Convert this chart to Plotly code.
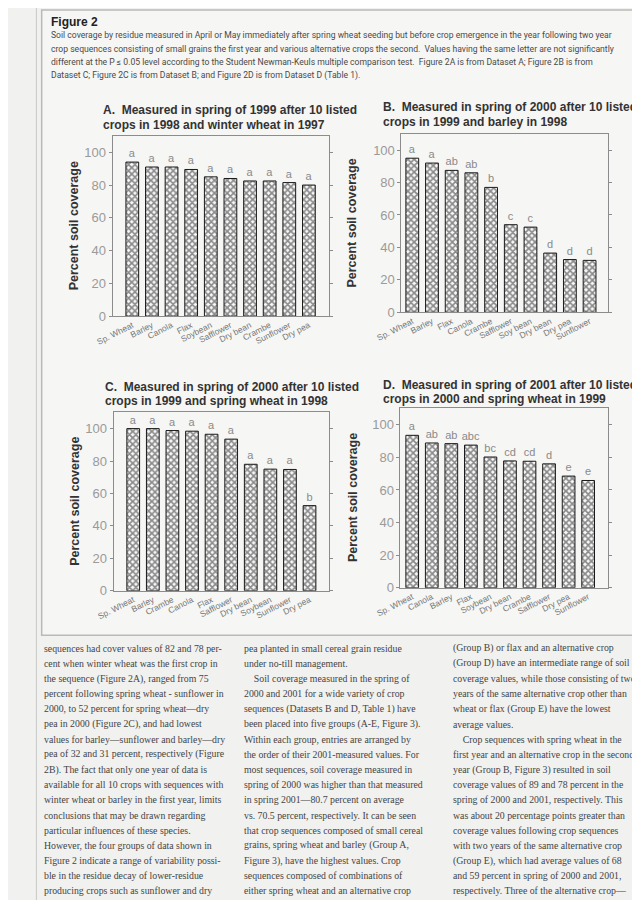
import plotly.graph_objects as go

W, H = 640, 900

# ---------------- data ----------------
crops_a = ["Sp. Wheat", "Barley", "Canola", "Flax", "Soybean", "Safflower", "Dry bean", "Crambe", "Sunflower", "Dry pea"]
vals_a = [94, 91, 91, 89.5, 85, 84, 82.5, 82.5, 81.5, 80]
lets_a = ["a", "a", "a", "a", "a", "a", "a", "a", "a", "a"]

crops_b = ["Sp. Wheat", "Barley", "Flax", "Canola", "Crambe", "Safflower", "Soy bean", "Dry bean", "Dry pea", "Sunflower"]
vals_b = [95, 92, 87.5, 86, 77, 54, 52.5, 36.5, 32.5, 32]
lets_b = ["a", "a", "ab", "ab", "b", "c", "c", "d", "d", "d"]

crops_c = ["Sp. Wheat", "Barley", "Crambe", "Canola", "Flax", "Safflower", "Dry bean", "Soybean", "Sunflower", "Dry pea"]
vals_c = [100, 100, 98.8, 98.4, 96.5, 93.5, 78, 75, 74.8, 52.5]
lets_c = ["a", "a", "a", "a", "a", "a", "a", "a", "a", "b"]

crops_d = ["Sp. Wheat", "Canola", "Barley", "Flax", "Soybean", "Dry bean", "Crambe", "Safflower", "Dry pea", "Sunflower"]
vals_d = [93.5, 88.8, 88.4, 87.5, 80.2, 77.8, 77.6, 76, 68.5, 65.8]
lets_d = ["a", "ab", "ab", "abc", "bc", "cd", "cd", "d", "e", "e"]

titles = [
    ["A.  Measured in spring of 1999 after 10 listed", "crops in 1998 and winter wheat in 1997"],
    ["B.  Measured in spring of 2000 after 10 listed", "crops in 1999 and barley in 1998"],
    ["C.  Measured in spring of 2000 after 10 listed", "crops in 1999 and spring wheat in 1998"],
    ["D.  Measured in spring of 2001 after 10 listed", "crops in 2000 and spring wheat in 1999"],
]
y_title = "Percent soil coverage"
y_ticks = [0, 20, 40, 60, 80, 100]

fig_label = "Figure 2"
caption_lines = [
    "Soil coverage by residue measured in April or May immediately after spring wheat seeding but before crop emergence in the year following two year",
    "crop sequences consisting of small grains the first year and various alternative crops the second.  Values having the same letter are not significantly",
    "different at the P \u2264 0.05 level according to the Student Newman-Keuls multiple comparison test.  Figure 2A is from Dataset A; Figure 2B is from",
    "Dataset C; Figure 2C is from Dataset B; and Figure 2D is from Dataset D (Table 1).",
]

col1 = [
    "sequences had cover values of 82 and 78 per-",
    "cent when winter wheat was the first crop in",
    "the sequence (Figure 2A), ranged from 75",
    "percent following spring wheat - sunflower in",
    "2000, to 52 percent for spring wheat\u2014dry",
    "pea in 2000 (Figure 2C), and had lowest",
    "values for barley\u2014sunflower and barley\u2014dry",
    "pea of 32 and 31 percent, respectively (Figure",
    "2B). The fact that only one year of data is",
    "available for all 10 crops with sequences with",
    "winter wheat or barley in the first year, limits",
    "conclusions that may be drawn regarding",
    "particular influences of these species.",
    "However, the four groups of data shown in",
    "Figure 2 indicate a range of variability possi-",
    "ble in the residue decay of lower-residue",
    "producing crops such as sunflower and dry",
]
col2 = [
    "pea planted in small cereal grain residue",
    "under no-till management.",
    "\u2003Soil coverage measured in the spring of",
    "2000 and 2001 for a wide variety of crop",
    "sequences (Datasets B and D, Table 1) have",
    "been placed into five groups (A-E, Figure 3).",
    "Within each group, entries are arranged by",
    "the order of their 2001-measured values. For",
    "most sequences, soil coverage measured in",
    "spring of 2000 was higher than that measured",
    "in spring 2001\u201480.7 percent on average",
    "vs. 70.5 percent, respectively. It can be seen",
    "that crop sequences composed of small cereal",
    "grains, spring wheat and barley (Group A,",
    "Figure 3), have the highest values. Crop",
    "sequences composed of combinations of",
    "either spring wheat and an alternative crop",
]
col3 = [
    "(Group B) or flax and an alternative crop",
    "(Group D) have an intermediate range of soil",
    "coverage values, while those consisting of two",
    "years of the same alternative crop other than",
    "wheat or flax (Group E) have the lowest",
    "average values.",
    "\u2003Crop sequences with spring wheat in the",
    "first year and an alternative crop in the second",
    "year (Group B, Figure 3) resulted in soil",
    "coverage values of 89 and 78 percent in the",
    "spring of 2000 and 2001, respectively. This",
    "was about 20 percentage points greater than",
    "coverage values following crop sequences",
    "with two years of the same alternative crop",
    "(Group E), which had average values of 68",
    "and 59 percent in spring of 2000 and 2001,",
    "respectively. Three of the alternative crop\u2014",
]

# ---------------- layout helpers ----------------
def px(x):
    return x / W

def py(y):
    return 1 - y / H

panels = [
    dict(box=(82, 307, 129, 311), xr=[-1.0, 10.0], title_xy=(70, 103), ytl_xy=(42, 220)),
    dict(box=(383, 598, 127, 307), xr=[-0.55, 9.92], title_xy=(362, 100), ytl_xy=(332, 217)),
    dict(box=(83, 307, 408, 588), xr=[-1.0, 9.97], title_xy=(72, 382), ytl_xy=(42, 498)),
    dict(box=(382, 598, 404, 585), xr=[-0.6, 10.0], title_xy=(362, 380), ytl_xy=(332, 494)),
]
data = [(crops_a, vals_a, lets_a), (crops_b, vals_b, lets_b), (crops_c, vals_c, lets_c), (crops_d, vals_d, lets_d)]

SANS = "Liberation Sans, Arial, sans-serif"
fig = go.Figure()
annotations = []
shapes = []

BG = "#f1f1ef"
BOX = "#f6f6f4"

shapes.append(dict(type="rect", xref="paper", yref="paper", x0=px(8), x1=px(636), y0=py(633), y1=py(2),
                   line=dict(color="#b9b9b7", width=1.5), fillcolor=BOX, layer="below"))
shapes.append(dict(type="line", xref="paper", yref="paper", x0=px(2.5), x1=px(2.5), y0=0, y1=1,
                   line=dict(color="#c8c8c6", width=1), layer="below"))

for i, (p, (cats, vals, lets)) in enumerate(zip(panels, data)):
    n = "" if i == 0 else str(i + 1)
    l, r, t, b = p["box"]
    fig.add_trace(go.Bar(
        x=cats, y=vals, text=lets, textposition="outside", constraintext="none",
        textfont=dict(family=SANS, size=11, color="#8a8a8a"),
        cliponaxis=False, width=0.65,
        marker=dict(color="#f8f8f8", line=dict(color="#1a1a1a", width=1),
                    pattern=dict(shape="x", fgcolor="#1c1c1c", bgcolor="#f8f8f8", size=4.5, solidity=0.62)),
        xaxis="x" + n, yaxis="y" + n, showlegend=False, hoverinfo="skip",
    ))
    fig.layout["xaxis" + n] = dict(
        domain=[px(l), px(r)], anchor="y" + n, type="category", range=p["xr"],
        showline=True, mirror=True, linecolor="#8c8c8c", linewidth=1, ticks="",
        tickangle=-27, tickfont=dict(family=SANS, size=8.5, color="#777"),
        showgrid=False, zeroline=False, fixedrange=True,
    )
    fig.layout["yaxis" + n] = dict(
        domain=[py(b), py(t)], anchor="x" + n, range=[0, 110], tickvals=y_ticks,
        showline=True, mirror="ticks", linecolor="#8c8c8c", linewidth=1,
        ticks="outside", ticklen=3, tickcolor="#8c8c8c",
        tickfont=dict(family=SANS, size=13, color="#9a9a9a"),
        showgrid=False, zeroline=False, fixedrange=True,
    )
    tx, ty = p["title_xy"]
    for k, line in enumerate(titles[i]):
        annotations.append(dict(xref="paper", yref="paper", x=px(tx), y=py(ty + 15 * k), text="<b>" + line + "</b>",
                                showarrow=False, xanchor="left", yanchor="middle",
                                font=dict(family=SANS, size=12, color="#333")))
    ax_, ay_ = p["ytl_xy"]
    annotations.append(dict(xref="paper", yref="paper", x=px(ax_), y=py(ay_), text="<b>" + y_title + "</b>",
                            showarrow=False, textangle=-90, xanchor="center", yanchor="middle",
                            font=dict(family=SANS, size=12.5, color="#333")))

annotations.append(dict(xref="paper", yref="paper", x=px(16), y=py(14), text="<b>" + fig_label + "</b>",
                        showarrow=False, xanchor="left", yanchor="middle",
                        font=dict(family=SANS, size=12, color="#222")))
for k, line in enumerate(caption_lines):
    annotations.append(dict(xref="paper", yref="paper", x=px(16), y=py(27.5 + 13.4 * k), text=line,
                            showarrow=False, xanchor="left", yanchor="middle",
                            font=dict(family="Roboto, Liberation Sans, sans-serif", size=8.6, color="#4a4a4a")))

for x0, col in [(8, col1), (217, col2), (435, col3)]:
    for k, line in enumerate(col):
        annotations.append(dict(xref="paper", yref="paper", x=px(x0), y=py(646 + 15.3 * k), text=line,
                                showarrow=False, xanchor="left", yanchor="middle",
                                font=dict(family="Liberation Serif, Times New Roman, serif", size=9.8, color="#444")))

fig.update_layout(
    width=W, height=H, margin=dict(l=0, r=0, t=0, b=0),
    paper_bgcolor=BG, plot_bgcolor="rgba(0,0,0,0)",
    annotations=annotations, shapes=shapes, bargap=0.35,
)

fig.write_html("out.html")
